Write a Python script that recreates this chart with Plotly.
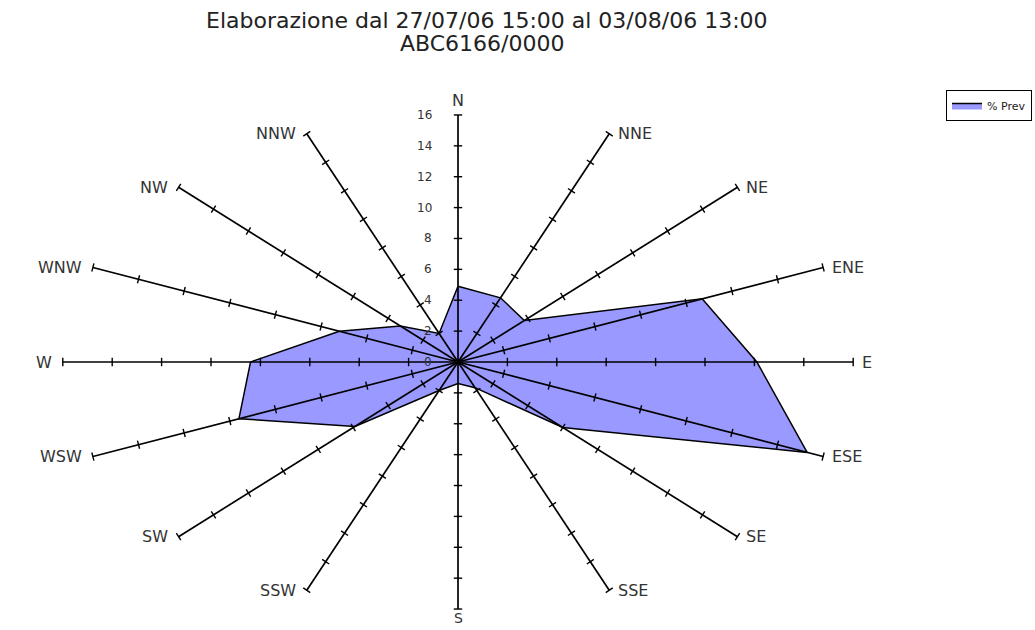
import numpy as np
import plotly.graph_objects as go

# ---- data ----
directions = ["N", "NNE", "NE", "ENE", "E", "ESE", "SE", "SSE",
              "S", "SSW", "SW", "WSW", "W", "WNW", "NW", "NNW"]
prev = [4.9, 4.5, 3.8, 10.7, 12.1, 15.3, 6.0, 1.8,
        1.4, 2.0, 5.9, 9.6, 8.4, 5.2, 3.3, 2.0]
radial_ticks = [0, 2, 4, 6, 8, 10, 12, 14, 16]
series_name = "% Prev"
title_line1 = "Elaborazione dal 27/07/06 15:00 al 03/08/06 13:00"
title_line2 = "ABC6166/0000"
r_max = 16

# ---- page / geometry ----
W, H = 1035, 630
cx, cy = 458, 362               # pixel position of the centre
ux, uy = 24.7, 15.44            # pixels per unit, horizontal / vertical
xrange = [-cx / ux, (W - cx) / ux]
yrange = [-(H - cy) / uy, cy / uy]


def paper_x(px):
    return px / W


def paper_y(py):
    return 1 - py / H


ang = np.deg2rad(np.arange(len(directions)) * 360.0 / len(directions))
sx, cyv = np.sin(ang), np.cos(ang)

fig = go.Figure()

# data polygon
px = [r * s for r, s in zip(prev, sx)] + [prev[0] * sx[0]]
py = [r * c for r, c in zip(prev, cyv)] + [prev[0] * cyv[0]]
fig.add_trace(go.Scatter(
    x=px, y=py, mode="lines", fill="toself", fillcolor="#9999FF",
    line=dict(color="black", width=1.5), name=series_name,
    showlegend=True, hoverinfo="skip"))

# spokes
lx, ly = [], []
for s, c in zip(sx, cyv):
    lx += [0, r_max * s, None]
    ly += [0, r_max * c, None]
fig.add_trace(go.Scatter(x=lx, y=ly, mode="lines",
                         line=dict(color="black", width=1.7),
                         showlegend=False, hoverinfo="skip"))

# tick marks on spokes
tx, ty, ta = [], [], []
for s, c in zip(sx, cyv):
    a = np.degrees(np.arctan2(-c * uy, s * ux))
    for r in radial_ticks[1:]:
        tx.append(r * s)
        ty.append(r * c)
        ta.append(a)
fig.add_trace(go.Scatter(x=tx, y=ty, mode="markers",
                         marker=dict(symbol="line-ns", size=6, angle=ta,
                                     line=dict(color="black", width=1.4)),
                         showlegend=False, hoverinfo="skip"))

annotations = []
# direction labels
lab_font = dict(family="DejaVu Sans, Arial", size=16, color="#333333")
for d, s, c in zip(directions, sx, cyv):
    x, y = r_max * s, r_max * c
    if d == "N":
        annotations.append(dict(x=x, y=y, text=d, showarrow=False, xanchor="center",
                                yanchor="bottom", yshift=3, font=lab_font))
    elif d == "S":
        annotations.append(dict(x=x, y=y, text=d, showarrow=False, xanchor="center",
                                yanchor="top", yshift=0, borderpad=0,
                                font=dict(lab_font, size=14)))
    elif s > 0:
        annotations.append(dict(x=x, y=y, text=d, showarrow=False, xanchor="left",
                                yanchor="middle", xshift=7, font=lab_font))
    else:
        annotations.append(dict(x=x, y=y, text=d, showarrow=False, xanchor="right",
                                yanchor="middle", xshift=-9, font=lab_font))

# radial scale labels
for r in radial_ticks:
    annotations.append(dict(x=0, y=r, text=str(r), showarrow=False, xanchor="right",
                            yanchor="middle", xshift=-24,
                            font=dict(family="DejaVu Sans, Arial", size=12, color="#333333")))

# title
tfont = dict(family="DejaVu Sans, Arial", size=22, color="#222222")
annotations.append(dict(xref="paper", yref="paper", x=paper_x(487), y=paper_y(20),
                        text=title_line1, showarrow=False, xanchor="center",
                        yanchor="middle", font=tfont))
annotations.append(dict(xref="paper", yref="paper", x=paper_x(482), y=paper_y(44),
                        text=title_line2, showarrow=False, xanchor="center",
                        yanchor="middle", font=tfont))

fig.update_layout(
    width=W, height=H,
    margin=dict(l=0, r=0, t=0, b=0, autoexpand=False),
    paper_bgcolor="white", plot_bgcolor="white",
    xaxis=dict(visible=False, range=xrange, fixedrange=True),
    yaxis=dict(visible=False, range=yrange, fixedrange=True),
    annotations=annotations,
    legend=dict(x=paper_x(1032), y=paper_y(90), xanchor="right", yanchor="top",
                bordercolor="black", borderwidth=1, bgcolor="white",
                font=dict(family="DejaVu Sans, Arial", size=11, color="#222222"),
                itemwidth=30, tracegroupgap=0),
)

fig.write_html(
    "out.html",
    config={"displayModeBar": False},
    post_script="document.body.style.margin='0';document.body.style.overflow='hidden';",
)
